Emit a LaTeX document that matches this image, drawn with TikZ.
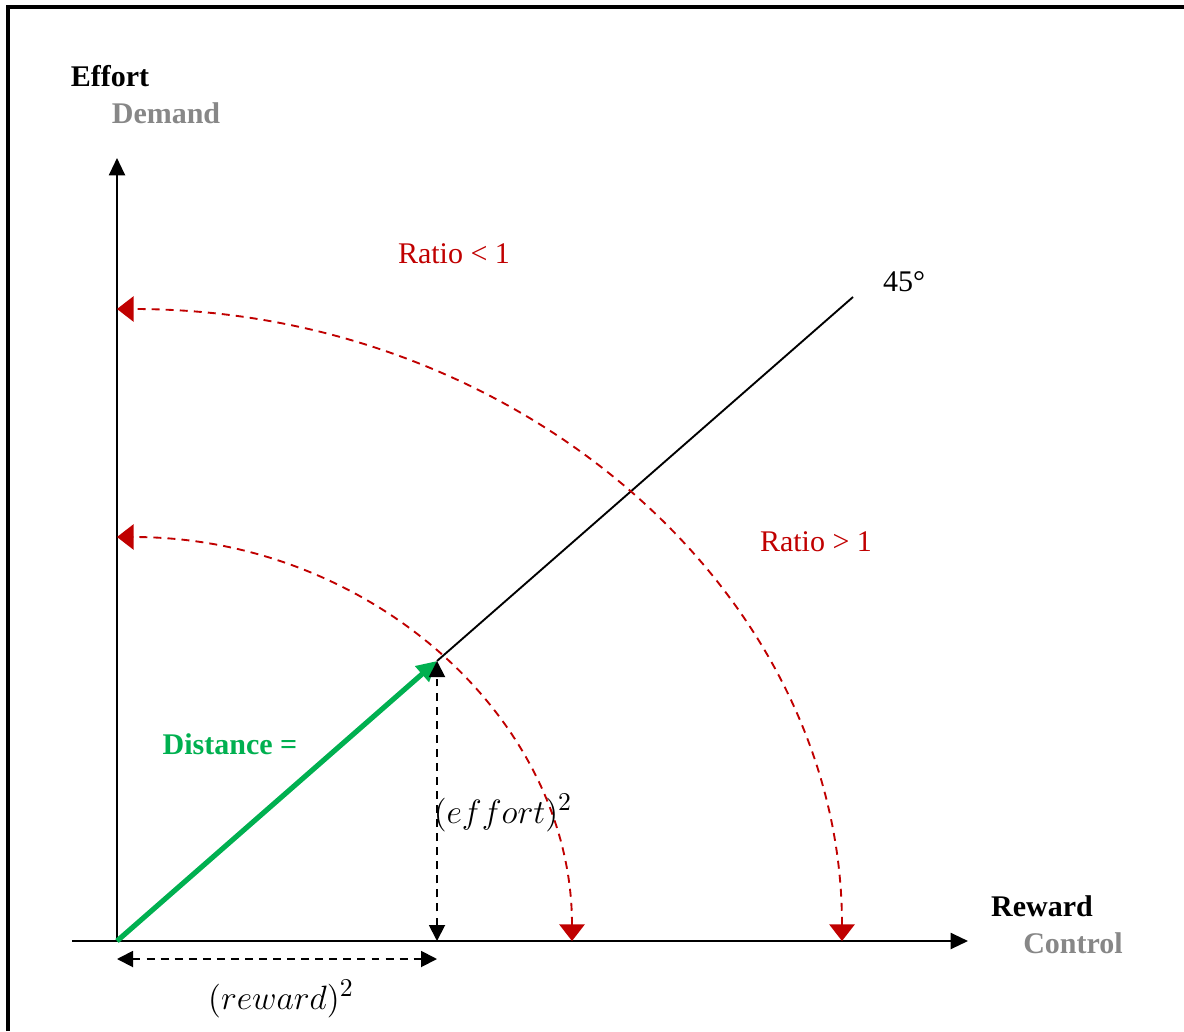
\documentclass[tikz,border=0pt]{standalone}
\usepackage{fontspec}
\setmainfont{Liberation Serif}
\usetikzlibrary{arrows.meta}
\definecolor{ratiored}{HTML}{C00000}
\definecolor{distgreen}{HTML}{00B050}
\definecolor{subgray}{HTML}{878787}
\tikzset{
  lbl/.style={font=\fontsize{12.8}{15}\selectfont},
  mathlbl/.style={font=\fontsize{15}{18}\selectfont},
  redarc/.style={ratiored, line width=0.8pt, dash pattern=on 3.4pt off 2.6pt,
    {Triangle[width=3.8mm,length=2.5mm]}-{Triangle[width=3.8mm,length=2.5mm]}},
  measure/.style={line width=0.8pt, dash pattern=on 3.4pt off 2.6pt,
    {Triangle[width=2.4mm,length=2.4mm]}-{Triangle[width=2.4mm,length=2.4mm]}}
}
\begin{document}
\begin{tikzpicture}[x=1.5cm,y=1.5cm]
  \useasboundingbox (-1.17,-0.90) rectangle (10.67,9.41);
  % frame
  \draw[line width=1.3pt] (-1.09,-0.90) -- (-1.09,9.34) -- (10.67,9.34);
  % axes
  \coordinate (O) at (0,0);
  \coordinate (ytop) at (0,7.83);
  \coordinate (xleft) at (-0.45,0);
  \coordinate (xright) at (8.51,0);
  \draw[-{Triangle[width=2.4mm,length=2.6mm]},line width=0.9pt] (O) -- (ytop);
  \draw[-{Triangle[width=2.4mm,length=2.6mm]},line width=0.9pt] (xleft) -- (xright);
  % 45 degree line
  \coordinate (P) at (3.20,2.80);
  \coordinate (Q) at (7.36,6.44);
  \draw[line width=0.8pt] (P) -- (Q);
  % arcs
  \coordinate (a1) at (4.55,0);
  \coordinate (a2) at (7.25,0);
  \draw[redarc] (a1) arc[start angle=0,end angle=90,x radius=4.55,y radius=4.04];
  \draw[redarc] (a2) arc[start angle=0,end angle=90,x radius=7.25,y radius=6.32];
  % distance vector
  \draw[distgreen,line width=2.2pt,-{Triangle[width=3mm,length=3mm]}] (O) -- (P);
  % components
  \coordinate (Px) at (3.20,0);
  \coordinate (r1) at (0,-0.18);
  \coordinate (r2) at (3.20,-0.18);
  \draw[measure] (Px) -- (P);
  \draw[measure] (r1) -- (r2);
  % labels
  \node[lbl,font=\fontsize{12.8}{15}\selectfont\bfseries] (effort) at (-0.07,8.65){Effort};
  \node[lbl,font=\fontsize{12.8}{15}\selectfont\bfseries,subgray] (demand) at (0.49,8.28){Demand};
  \node[lbl,font=\fontsize{12.8}{15}\selectfont\bfseries] (reward) at (9.25,0.35){Reward};
  \node[lbl,font=\fontsize{12.8}{15}\selectfont\bfseries,subgray] (control) at (9.56,-0.02){Control};
  \node[lbl,ratiored] (rlow) at (3.37,6.87){Ratio < 1};
  \node[lbl,ratiored] (rhigh) at (6.99,3.99){Ratio > 1};
  \node[lbl] (deg) at (7.87,6.59){45°};
  \node[lbl,font=\fontsize{12.8}{15}\selectfont\bfseries,distgreen] (dist) at (1.13,1.97){Distance =};
  \node[mathlbl] (effsq) at (3.86,1.28){$(effort)^2$};
  \node[mathlbl] (rewsq) at (1.64,-0.58){$(reward)^2$};
\end{tikzpicture}
\end{document}
